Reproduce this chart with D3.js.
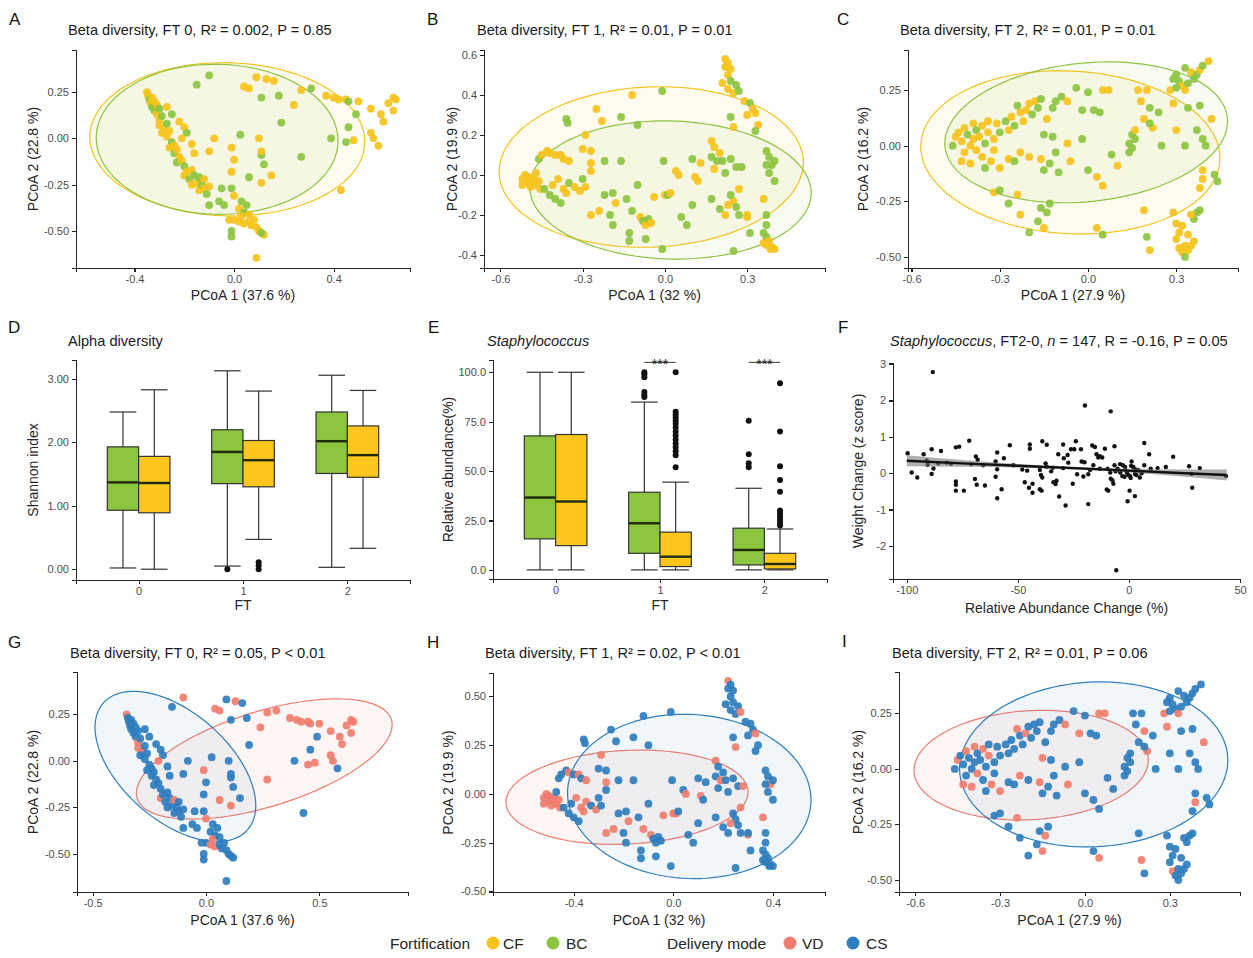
<!DOCTYPE html>
<html lang="en">
<head>
<meta charset="utf-8">
<title>Fortification and delivery mode panels</title>
<script src="https://d3js.org/d3.v7.min.js"></script>
<style>
  html, body { margin: 0; padding: 0; background: #fff; }
  text { font-family: "Liberation Sans", Arial, sans-serif; }
  .axis path, .axis line { stroke: #222; stroke-width: 1.1px; shape-rendering: crispEdges; }
  .axis text { fill: #4d4d4d; font-size: 11px; }
  .title { font-size: 14.6px; fill: #1a1a1a; }
  .atitle { font-size: 14px; fill: #262626; }
  .letter { font-size: 17px; fill: #111; }
  .legend text { font-size: 15.5px; fill: #262626; }
</style>
</head>
<body>
<script>
// groups and colours
var fortGroups = ["CF", "BC"];
var fortColors = ["#F6C21C", "#8CC440"];
var deliveryGroups = ["VD", "CS"];
var deliveryColors = ["#F07D6E", "#2E7DBE"];
var ftLevels = ["0", "1", "2"];

// PCoA samples: [PCoA1, PCoA2, fortification index, delivery index]
var ft0Points = [
  [-0.35,0.25,0,0],[-0.345,0.23,0,1],[-0.34,0.21,1,1],[-0.335,0.19,0,1],[-0.33,0.22,0,1],[-0.33,0.17,1,1],
  [-0.32,0.2,0,1],[-0.32,0.15,1,1],[-0.31,0.18,0,1],[-0.31,0.13,0,1],[-0.3,0.16,1,1],[-0.3,0.1,0,0],
  [-0.29,0.12,1,1],[-0.3,0.07,0,0],[-0.28,0.05,0,0],[-0.29,0.03,0,1],[-0.27,0.08,1,1],[-0.27,0.01,0,1],
  [-0.26,0.04,0,1],[-0.25,-0.02,1,1],[-0.26,-0.05,0,1],[-0.24,-0.04,0,1],[-0.24,-0.08,1,1],[-0.23,-0.06,0,1],
  [-0.22,-0.1,0,1],[-0.23,-0.13,1,1],[-0.21,-0.12,0,1],[-0.2,-0.15,1,1],[-0.2,-0.2,0,0],[-0.19,-0.18,0,1],
  [-0.18,-0.22,1,1],[-0.17,-0.17,0,1],[-0.17,-0.25,0,1],[-0.16,-0.2,1,1],[-0.15,-0.24,0,1],[-0.14,-0.21,1,0],
  [-0.14,-0.28,0,1],[-0.13,-0.25,1,1],[-0.12,-0.27,0,1],[-0.12,-0.22,0,1],[-0.11,-0.3,1,1],[-0.1,-0.26,0,1],
  [-0.27,0.17,0,1],[-0.25,0.13,1,1],[-0.22,0.09,0,1],[-0.2,0.06,0,1],[-0.19,0.03,1,1],[-0.21,0.0,0,0],
  [-0.17,-0.03,0,1],[-0.16,-0.08,0,1],
  [-0.15,0.29,1,1],[-0.1,0.34,1,0],[0.09,0.33,0,1],[0.13,0.32,0,0],[0.16,0.31,0,1],[0.04,0.28,0,0],
  [0.06,0.27,0,0],[0.11,0.22,1,1],[0.18,0.23,1,1],[0.24,0.18,0,0],[0.27,0.26,0,0],[0.31,0.27,1,0],
  [0.37,0.23,0,0],[0.4,0.22,0,0],[0.42,0.21,0,0],[0.45,0.21,0,0],[0.46,0.2,1,0],[0.5,0.2,0,0],
  [0.49,0.13,1,1],[0.55,0.16,0,0],[0.59,0.13,0,0],[0.62,0.19,0,0],[0.65,0.21,0,0],[0.64,0.22,0,0],
  [0.64,0.15,0,0],[0.6,0.09,0,0],[0.55,0.03,0,0],[0.56,0.0,0,0],[0.58,-0.04,0,1],[0.48,-0.01,0,0],
  [0.43,-0.28,0,1],[0.39,0.0,1,1],[0.45,-0.02,1,0],[0.46,0.06,1,1],[0.27,-0.1,1,0],[0.19,0.085,1,1],
  [0.025,0.02,1,1],[0.11,-0.09,1,1],[0.12,-0.14,1,1],[0.06,-0.21,1,0],[-0.01,-0.27,1,1],[-0.05,-0.27,1,1],
  [-0.1,-0.36,1,1],[-0.08,0.0,0,1],[-0.01,-0.05,0,0],[0.0,-0.115,0,1],[0.1,0.0,0,1],[0.11,-0.07,0,1],
  [0.15,-0.2,0,1],[-0.01,-0.18,0,1],[0.0,-0.31,0,0],[0.11,-0.24,0,0],[-0.1,-0.07,0,1],
  [0.02,-0.38,0,1],[0.04,-0.4,1,1],[0.03,-0.42,0,0],[0.05,-0.36,1,1],[0.06,-0.41,0,1],[0.0,-0.44,0,1],
  [0.02,-0.45,0,0],[0.04,-0.46,0,0],[0.06,-0.45,0,1],[0.08,-0.44,0,1],[0.07,-0.47,0,1],[0.09,-0.48,0,1],
  [0.1,-0.5,0,1],[0.12,-0.52,0,1],[0.11,-0.51,1,1],[-0.01,-0.53,1,1],[-0.01,-0.5,1,1],[0.09,-0.645,0,1],
  [0.03,-0.34,1,1],[-0.04,-0.36,1,1],[-0.06,-0.34,1,1],[-0.02,-0.44,0,1]
];

var ft1Points = [
  [-0.52,-0.02,0,0],[-0.51,0.0,0,0],[-0.5,-0.04,0,0],[-0.5,-0.01,0,0],[-0.49,-0.03,0,0],[-0.49,-0.06,0,0],
  [-0.48,-0.02,0,0],[-0.47,-0.05,0,0],[-0.47,0.01,0,1],[-0.46,-0.03,0,0],[-0.455,-0.07,0,0],[-0.52,-0.05,0,0],
  [-0.46,0.08,1,1],[-0.45,0.1,0,1],[-0.43,0.12,0,1],[-0.42,0.11,0,0],[-0.4,0.1,0,1],[-0.38,0.1,0,0],
  [-0.37,0.08,0,1],[-0.35,0.07,0,0],
  [-0.44,-0.07,1,1],[-0.42,-0.1,1,1],[-0.4,-0.12,1,1],[-0.38,-0.14,1,1],[-0.41,-0.05,0,1],[-0.39,-0.02,0,0],
  [-0.37,-0.07,0,0],[-0.36,-0.09,0,0],[-0.35,-0.04,1,0],[-0.33,-0.06,0,1],[-0.31,-0.08,0,0],[-0.29,-0.06,0,1],
  [-0.3,-0.02,1,1],
  [-0.36,0.28,1,1],[-0.355,0.26,1,1],[-0.29,0.2,0,0],[-0.3,0.13,0,1],[-0.27,0.12,0,1],[-0.27,0.06,0,0],
  [-0.25,0.33,0,1],[-0.23,0.27,0,1],[-0.27,0.02,0,1],[-0.22,0.07,1,1],[-0.22,-0.1,1,1],[-0.19,-0.09,1,1],
  [-0.2,-0.2,1,1],[-0.18,-0.14,0,0],[-0.16,0.29,1,1],[-0.16,0.07,1,1],[-0.24,-0.18,0,0],[-0.27,-0.2,0,0],
  [-0.19,-0.25,1,1],
  [-0.12,0.4,0,1],[-0.1,0.25,1,1],[-0.13,-0.29,1,1],[-0.13,-0.33,1,1],[-0.14,-0.12,1,1],[-0.1,-0.05,1,1],
  [-0.12,-0.18,1,0],[-0.09,-0.21,0,0],[-0.08,-0.23,1,1],[-0.07,-0.25,0,1],[-0.06,-0.22,1,1],[-0.05,-0.24,0,1],
  [-0.07,-0.32,1,1],[-0.04,-0.11,0,0],[-0.01,0.42,1,1],[-0.005,0.07,1,1],[0.0,-0.1,0,0],[0.01,-0.1,1,0],
  [0.02,-0.09,0,1],[-0.01,-0.37,1,1],[0.06,-0.21,1,1],[0.04,0.02,0,1],[0.08,-0.25,1,1],[0.1,-0.15,1,1],
  [0.1,0.08,1,1],[0.11,-0.01,0,0],[0.12,-0.03,0,1],[0.13,0.06,0,1],[0.05,0.0,0,0],
  [0.17,0.17,0,0],[0.18,0.14,0,1],[0.17,0.09,1,1],[0.2,0.11,0,1],[0.19,0.07,1,0],[0.21,0.07,1,1],
  [0.24,0.08,1,1],[0.22,0.01,1,1],[0.18,0.03,0,1],[0.26,0.04,1,1],[0.28,0.04,1,0],[0.27,-0.07,0,0],
  [0.25,-0.13,0,1],[0.24,-0.1,1,1],[0.23,-0.15,0,0],[0.26,-0.16,1,1],[0.27,-0.2,1,1],[0.2,-0.17,1,1],
  [0.17,-0.12,1,1],[0.22,-0.2,0,1],[0.25,-0.38,1,1],[0.3,-0.21,0,0],[0.31,-0.29,1,1],[0.3,-0.2,0,1],
  [0.22,0.58,0,0],[0.23,0.56,0,1],[0.22,0.54,0,1],[0.24,0.53,0,1],[0.23,0.5,0,1],[0.21,0.46,0,1],
  [0.24,0.47,1,1],[0.26,0.45,1,1],[0.23,0.43,0,1],[0.25,0.41,0,1],[0.27,0.42,1,0],[0.29,0.37,0,1],
  [0.31,0.36,1,1],[0.32,0.33,0,1],[0.33,0.31,0,0],[0.3,0.3,0,1],[0.34,0.25,0,1],[0.33,0.22,1,1],
  [0.24,0.29,1,1],[0.25,0.24,0,0],
  [0.37,0.12,1,1],[0.38,0.09,1,1],[0.39,0.05,1,0],[0.37,0.05,1,1],[0.4,0.07,1,1],[0.4,-0.03,1,1],
  [0.38,0.01,1,1],[0.36,-0.12,0,0],[0.37,-0.2,1,1],[0.37,-0.25,1,1],[0.36,-0.29,1,1],[0.37,-0.31,1,1],
  [0.38,-0.33,0,1],[0.37,-0.35,0,1],[0.39,-0.36,0,1],[0.4,-0.37,0,1],[0.385,-0.37,0,1],[0.36,-0.34,0,1]
];

var ft2Points = [
  [-0.46,0.0,1,1],[-0.45,0.04,0,0],[-0.44,0.06,0,1],[-0.43,0.02,0,1],[-0.42,0.08,0,0],[-0.42,-0.03,0,1],
  [-0.41,0.05,1,1],[-0.4,0.0,0,1],[-0.4,-0.08,0,0],[-0.39,0.1,0,0],[-0.39,0.03,0,1],[-0.38,0.07,1,1],
  [-0.38,-0.02,0,0],[-0.37,0.04,0,1],[-0.36,0.09,0,0],[-0.36,-0.05,0,1],[-0.35,0.01,1,1],[-0.34,0.11,0,1],
  [-0.34,0.06,0,0],[-0.33,-0.07,0,0],[-0.32,0.03,0,1],[-0.31,0.1,0,1],[-0.35,-0.1,1,1],[-0.43,-0.07,0,0],
  [-0.3,0.06,1,1],[-0.32,-0.02,0,1],
  [-0.28,0.11,1,1],[-0.27,0.07,0,1],[-0.26,0.13,0,1],[-0.25,0.09,1,1],[-0.24,0.18,1,0],[-0.23,0.15,0,1],
  [-0.22,0.11,0,1],[-0.21,0.16,0,0],[-0.2,0.19,0,1],[-0.19,0.14,1,1],[-0.18,0.2,0,1],[-0.17,0.17,1,1],
  [-0.16,0.21,1,1],[-0.15,0.05,1,0],[-0.14,0.12,0,1],[-0.12,0.17,1,1],[-0.11,0.2,1,1],[-0.09,0.22,1,1],
  [-0.07,0.2,0,0],[-0.04,0.26,1,1],[0.0,0.24,1,1],[0.05,0.25,0,0],[0.07,0.25,0,0],[0.02,0.16,1,1],
  [0.04,0.15,1,1],
  [-0.27,-0.06,0,1],[-0.25,-0.07,1,1],[-0.23,-0.03,0,0],[-0.3,-0.1,0,0],[-0.2,-0.05,0,1],[-0.16,-0.06,0,0],
  [-0.15,-0.11,1,1],[-0.13,-0.08,1,1],[-0.12,0.04,1,1],[-0.11,-0.03,1,1],[-0.1,-0.12,1,1],[-0.07,0.01,0,1],
  [-0.06,-0.07,0,0],[-0.02,0.03,1,1],[0.0,-0.11,1,1],[0.03,-0.14,0,1],[0.05,-0.18,0,1],[0.08,-0.04,1,1],
  [0.1,-0.09,0,1],[-0.02,0.16,1,0],
  [-0.32,-0.21,0,1],[-0.3,-0.2,1,1],[-0.27,-0.26,1,1],[-0.24,-0.22,0,0],[-0.23,-0.31,0,1],[-0.2,-0.39,1,1],
  [-0.17,-0.34,1,1],[-0.16,-0.28,1,1],[-0.14,-0.3,1,0],[-0.15,-0.37,0,0],[-0.13,-0.26,1,1],[0.03,-0.37,0,1],
  [0.05,-0.4,1,0],
  [0.14,0.01,1,1],[0.15,-0.01,1,1],[0.16,0.03,1,1],[0.15,0.05,1,1],[0.14,-0.03,1,1],[0.16,0.07,0,1],
  [0.17,0.25,0,1],[0.18,0.2,0,1],[0.2,0.25,0,1],[0.21,0.17,1,0],[0.19,0.12,0,1],[0.22,0.08,0,0],
  [0.24,0.15,1,1],[0.25,0.0,1,1],[0.21,0.1,1,1],[0.28,0.25,0,0],[0.29,0.19,0,0],[0.3,0.07,0,1],
  [0.33,0.0,1,1],[0.34,0.17,1,1],[0.37,0.07,1,1],[0.39,0.03,1,1],[0.4,0.0,1,1],[0.42,0.12,0,0],
  [0.38,0.18,1,1],
  [0.29,0.3,1,1],[0.3,0.32,1,1],[0.31,0.29,1,1],[0.32,0.27,0,1],[0.33,0.25,0,0],[0.3,0.26,1,1],
  [0.34,0.28,1,1],[0.35,0.33,0,1],[0.37,0.32,1,1],[0.38,0.34,0,1],[0.39,0.36,1,1],[0.41,0.38,0,1],
  [0.36,0.3,1,1],[0.33,0.35,1,1],
  [0.43,-0.13,1,1],[0.44,-0.16,1,1],[0.39,-0.15,0,0],[0.38,-0.19,0,1],[0.39,-0.11,0,1],
  [0.29,-0.3,0,1],[0.3,-0.35,0,1],[0.31,-0.39,0,1],[0.32,-0.36,0,1],[0.3,-0.42,0,1],[0.31,-0.46,0,0],
  [0.32,-0.48,0,1],[0.33,-0.5,1,1],[0.34,-0.47,0,1],[0.35,-0.45,0,1],[0.36,-0.43,0,1],[0.34,-0.4,0,1],
  [0.36,-0.33,1,1],[0.37,-0.3,1,1],[0.38,-0.29,1,1],[0.35,-0.31,0,1],[0.33,-0.45,0,1],[0.2,-0.41,1,0],
  [0.21,-0.47,0,1],[0.19,-0.29,0,1]
];

// 95% ellipses: [centre x, centre y, radius x, radius y, angle in degrees], group order as above
var ft0FortEllipses = [[-0.027,-0.005,0.553,0.413,-3],[-0.068,-0.005,0.486,0.405,-3]];
var ft1FortEllipses = [[-0.05,0.04,0.556,0.40,5],[0.02,-0.075,0.514,0.345,-3]];
var ft2FortEllipses = [[-0.06,-0.03,0.51,0.365,-6],[-0.006,0.06,0.485,0.31,10]];
var ft0DeliveryEllipses = [[0.257,0.01,0.6,0.25,22],[-0.135,-0.03,0.47,0.26,-52]];
var ft1DeliveryEllipses = [[-0.186,-0.017,0.487,0.24,4],[0.064,-0.013,0.49,0.42,-8]];
var ft2DeliveryEllipses = [[-0.19,0.017,0.415,0.245,5],[0.031,0.02,0.475,0.37,6]];

// box plots: [FT, group, lower whisker, Q1, median, Q3, upper whisker]
var alphaStats = [
  ["0","BC",0.02,0.93,1.37,1.93,2.48],
  ["0","CF",0.0,0.89,1.36,1.78,2.83],
  ["1","BC",0.05,1.35,1.85,2.2,3.13],
  ["1","CF",0.47,1.3,1.72,2.03,2.81],
  ["2","BC",0.03,1.51,2.02,2.48,3.06],
  ["2","CF",0.33,1.45,1.8,2.26,2.82]
];
var alphaOutliers = [["1","BC",0.0],["1","CF",0.0],["1","CF",0.06],["1","CF",0.11]];

var staphStats = [
  ["0","BC",0,15.7,36.6,67.8,100],
  ["0","CF",0,12.3,34.6,68.5,100],
  ["1","BC",0,8.4,23.6,39.3,84.9],
  ["1","CF",0,1.7,6.7,19.1,44.4],
  ["2","BC",0,2.5,10.1,21.1,41.3],
  ["2","CF",0,0.5,3,8.4,20.7]
];
var staphOutliers = [
  ["1","BC",100],["1","BC",99],["1","BC",97.5],["1","BC",90],["1","BC",88.5],["1","BC",87.5],
  ["1","CF",100],["1","CF",80],["1","CF",78.5],["1","CF",77],["1","CF",75.5],["1","CF",74],["1","CF",72],
  ["1","CF",70],["1","CF",68],["1","CF",66],["1","CF",64],["1","CF",62],["1","CF",60],["1","CF",58],["1","CF",52],
  ["2","BC",75.5],["2","BC",58.5],["2","BC",54],["2","BC",52],
  ["2","CF",94.5],["2","CF",70],["2","CF",52.5],["2","CF",45.5],["2","CF",39.5],["2","CF",30],["2","CF",28.5],
  ["2","CF",27],["2","CF",25.5],["2","CF",24],["2","CF",22.5]
];
var staphSignif = [["1","***",105],["2","***",105]];

// F: relative abundance change vs weight change z score
var fPoints = [
  [-99.6,0.55],[-97.8,0.02],[-95.3,-0.12],[-92.4,0.52],[-90.6,0.23],[-88.8,0.66],[-88.3,2.78],[-88.8,-0.02],
  [-88,0.13],[-84.6,0.61],[-85.8,0.27],[-80.1,0.26],[-77.9,0.71],[-76.4,0.73],[-77.9,-0.23],[-77.9,-0.32],
  [-77.9,-0.48],[-74.3,-0.48],[-71.9,0.89],[-68.9,0.46],[-68.1,0.37],[-69.3,-0.16],[-68.5,-0.32],[-64.8,-0.34],
  [-65.6,0.22],[-59.3,0.57],[-59.3,0.11],[-59.3,-0.69],[-57.3,-0.44],[-56.3,0.41],[-53.6,0.77],[-45.8,0.07],
  [-46.9,-0.25],[-44.6,0.79],[-44.6,0.67],[-43.4,-0.29],[-43.4,-0.54],[-39,0.88],[-40.1,0.09],[-39.6,-0.05],
  [-39,-0.12],[-40.1,-0.44],[-39.3,-0.48],[-37,0.78],[-37.5,0.27],[-37,0.18],[-34.3,0.15],[-34,-0.25],
  [-32.6,-0.21],[-31.8,0.52],[-31.4,-0.64],[-29.6,0.79],[-28.5,-0.89],[-29.6,0.14],[-29.3,0.41],[-27.6,0.5],
  [-27.3,0.29],[-26.1,0.66],[-25.3,-0.29],[-24.6,0.66],[-23.9,0.88],[-23.3,-0.03],[-21.6,0.66],[-21.3,0.32],
  [-20.5,-0.09],[-19.8,1.86],[-18.3,-0.85],[-18.3,-0.03],[-17.5,0.09],[-16.5,0.76],[-15.3,0.72],[-14.6,0.52],
  [-13.8,0.43],[-13.1,0.47],[-16,0.22],[-13.1,0.12],[-10.8,0.67],[-9.6,0.12],[-9.3,-0.48],[-8.2,1.7],
  [-8.4,0.02],[-8.2,-0.15],[-7.4,-0.2],[-7,-0.29],[-6.5,0.74],[-6.5,0.22],[-5.1,0.12],[-3.9,0.02],
  [-2.7,0.22],[-1.7,0.17],[-0.9,0.01],[-0.6,-0.77],[0.3,-0.48],[-0.3,-0.05],[0.8,-0.13],[1.2,0.32],
  [2,0.17],[2.7,-0.63],[2.7,-0.02],[3.4,-0.05],[4.2,0.08],[4.9,-0.12],[5.7,0.0],[6.9,0.83],
  [6.9,0.22],[9.1,0.52],[9.8,0.12],[12.9,0.14],[16.6,0.17],[19.9,0.45],[27.1,0.19],[28.2,-0.02],
  [28.5,-0.4],[31.9,0.14],[43.7,-0.08],[-91,0.35],[-82,0.29],[-60,0.32],[-52,0.22],[-48,0.1],
  [-35,0.05],[-12,0.43],[-4,0.25],[-2,-0.1],[1,0.2],[-10,-0.45],[-45,-0.4],[-33,-0.3],
  [-60,-0.1],[-71,0.25],[-5.7,-2.67],[-1,0.05],[0.5,-0.08],[3,0.1],[-6,0.05],[-3,-0.08],[-20,0.3]
];
var fitX = [-100, -75, -50, -25, 0, 25, 44];
var fitY = [0.34, 0.27, 0.205, 0.14, 0.07, 0.0, -0.05];
var fitLow = [0.19, 0.18, 0.155, 0.10, 0.02, -0.10, -0.20];
var fitHigh = [0.49, 0.36, 0.255, 0.18, 0.12, 0.10, 0.10];

var svg = d3.select("body").append("svg")
    .attr("width", 1253)
    .attr("height", 958);

var noMinus = function(f) { return function(d) { return d3.format(f)(d).replace("\u2212", "-"); }; };

function drawAxes(xs, ys, cfg) {
    svg.append("g")
        .attr("class", "axis")
        .attr("transform", "translate(0," + cfg.y1 + ")")
        .call(d3.axisBottom(xs).tickValues(cfg.xTicks).tickFormat(cfg.xFmt)
            .tickSizeOuter(0).tickSize(4).tickPadding(3));
    svg.append("g")
        .attr("class", "axis")
        .attr("transform", "translate(" + cfg.x0 + ",0)")
        .call(d3.axisLeft(ys).tickValues(cfg.yTicks).tickFormat(cfg.yFmt)
            .tickSizeOuter(0).tickSize(4).tickPadding(3));

    svg.append("text").attr("class", "atitle")
        .attr("x", (cfg.x0 + cfg.x1) / 2).attr("y", cfg.xtY)
        .attr("text-anchor", "middle").text(cfg.xLabel);
    svg.append("text").attr("class", "atitle")
        .attr("transform", "translate(" + cfg.ytX + "," + (cfg.y0 + cfg.y1) / 2 + ") rotate(-90)")
        .attr("text-anchor", "middle").attr("dominant-baseline", "central")
        .text(cfg.yLabel);
}

function drawHeader(cfg) {
    svg.append("text").attr("class", "letter")
        .attr("x", cfg.letterX).attr("y", cfg.letterY).text(cfg.letter);
    var t = svg.append("text").attr("class", "title")
        .attr("x", cfg.titleX).attr("y", cfg.titleY);
    cfg.title.forEach(function(part) {
        t.append("tspan").attr("font-style", part[1] ? "italic" : "normal").text(part[0]);
    });
}

function ellipsePath(e, xs, ys) {
    var th = e[4] * Math.PI / 180, pts = [];
    for (var i = 0; i <= 120; i++) {
        var t = 2 * Math.PI * i / 120;
        var dx = e[2] * Math.cos(t), dy = e[3] * Math.sin(t);
        pts.push([e[0] + dx * Math.cos(th) - dy * Math.sin(th),
                  e[1] + dx * Math.sin(th) + dy * Math.cos(th)]);
    }
    return d3.line().x(function(d) { return xs(d[0]); }).y(function(d) { return ys(d[1]); })(pts) + "Z";
}

function drawPcoa(cfg, points, ellipses, colorIdx, colors) {
    var xs = d3.scaleLinear().domain(cfg.xDomain).range([cfg.x0, cfg.x1]);
    var ys = d3.scaleLinear().domain(cfg.yDomain).range([cfg.y1, cfg.y0]);

    ellipses.forEach(function(e, i) {
        svg.append("path")
            .attr("d", ellipsePath(e, xs, ys))
            .attr("fill", colors[i]).attr("fill-opacity", 0.07)
            .attr("stroke", colors[i]).attr("stroke-width", 1.2);
    });

    svg.append("g").selectAll("circle")
        .data(points)
        .enter().append("circle")
        .attr("cx", function(d) { return xs(d[0]); })
        .attr("cy", function(d) { return ys(d[1]); })
        .attr("r", 3.9)
        .attr("fill", function(d) { return colors[d[colorIdx]]; })
        .attr("fill-opacity", 0.92);

    drawAxes(xs, ys, cfg);
    drawHeader(cfg);
}

function drawBoxes(cfg, stats, outliers) {
    var xs = d3.scalePoint().domain(ftLevels).range([cfg.x0, cfg.x1]).padding(0.6);
    var ys = d3.scaleLinear().domain(cfg.yDomain).range([cfg.y1, cfg.y0]);
    var step = xs.step();
    var bw = step * 0.3;
    var off = { "BC": -0.15 * step, "CF": 0.15 * step };
    var fill = { "BC": "#8CC63E", "CF": "#FFC61E" };

    var g = svg.append("g");
    stats.forEach(function(s) {
        var cx = xs(s[0]) + off[s[1]];
        var cap = bw * 0.85;
        g.append("line").attr("x1", cx).attr("x2", cx).attr("y1", ys(s[6])).attr("y2", ys(s[5]))
            .attr("stroke", "#333").attr("stroke-width", 1.2);
        g.append("line").attr("x1", cx).attr("x2", cx).attr("y1", ys(s[3])).attr("y2", ys(s[2]))
            .attr("stroke", "#333").attr("stroke-width", 1.2);
        [s[2], s[6]].forEach(function(v) {
            g.append("line").attr("x1", cx - cap / 2).attr("x2", cx + cap / 2)
                .attr("y1", ys(v)).attr("y2", ys(v))
                .attr("stroke", "#333").attr("stroke-width", 1.2);
        });
        g.append("rect").attr("x", cx - bw / 2).attr("width", bw)
            .attr("y", ys(s[5])).attr("height", ys(s[3]) - ys(s[5]))
            .attr("fill", fill[s[1]]).attr("stroke", "#333").attr("stroke-width", 1.2);
        g.append("line").attr("x1", cx - bw / 2).attr("x2", cx + bw / 2)
            .attr("y1", ys(s[4])).attr("y2", ys(s[4]))
            .attr("stroke", "#1f2a10").attr("stroke-width", 2.4);
    });
    g.selectAll("circle.out").data(outliers).enter().append("circle")
        .attr("cx", function(d) { return xs(d[0]) + off[d[1]]; })
        .attr("cy", function(d) { return ys(d[2]); })
        .attr("r", 3)
        .attr("fill", "#111");

    if (cfg.signif) {
        cfg.signif.forEach(function(s) {
            var a = xs(s[0]) + off["BC"], b = xs(s[0]) + off["CF"];
            g.append("line").attr("x1", a).attr("x2", b).attr("y1", ys(s[2])).attr("y2", ys(s[2]))
                .attr("stroke", "#333").attr("stroke-width", 1);
            g.append("text").attr("x", (a + b) / 2).attr("y", ys(s[2]) + 7)
                .attr("text-anchor", "middle").attr("font-size", "14px").attr("fill", "#222")
                .text(s[1]);
        });
    }

    drawAxes(xs, ys, cfg);
    drawHeader(cfg);
}

function drawF(cfg) {
    var xs = d3.scaleLinear().domain(cfg.xDomain).range([cfg.x0, cfg.x1]);
    var ys = d3.scaleLinear().domain(cfg.yDomain).range([cfg.y1, cfg.y0]);

    svg.append("g").selectAll("circle")
        .data(fPoints)
        .enter().append("circle")
        .attr("cx", function(d) { return xs(d[0]); })
        .attr("cy", function(d) { return ys(d[1]); })
        .attr("r", 2.2)
        .attr("fill", "#111");

    var band = d3.area()
        .x(function(d, i) { return xs(fitX[i]); })
        .y0(function(d, i) { return ys(fitLow[i]); })
        .y1(function(d, i) { return ys(fitHigh[i]); })
        .curve(d3.curveMonotoneX);
    svg.append("path").attr("d", band(fitX))
        .attr("fill", "#7a7a7a").attr("fill-opacity", 0.6);
    var line = d3.line()
        .x(function(d, i) { return xs(fitX[i]); })
        .y(function(d, i) { return ys(fitY[i]); });
    svg.append("path").attr("d", line(fitX))
        .attr("fill", "none").attr("stroke", "#111").attr("stroke-width", 2.4);

    drawAxes(xs, ys, cfg);
    drawHeader(cfg);
}

var f2 = noMinus(".2f"), f1 = noMinus(".1f"), f0 = noMinus("d");

drawPcoa({x0: 76, x1: 410, y0: 50, y1: 268, xDomain: [-0.635, 0.707], yDomain: [-0.70, 0.477],
    xTicks: [-0.4, 0, 0.4], yTicks: [-0.5, -0.25, 0, 0.25], xFmt: f1, yFmt: f2,
    xLabel: "PCoA 1 (37.6 %)", yLabel: "PCoA 2 (22.8 %)", xtY: 300, ytX: 33,
    letter: "A", letterX: 9, letterY: 25, titleX: 68, titleY: 35,
    title: [["Beta diversity, FT 0, R\u00b2 = 0.002, P = 0.85", false]]},
    ft0Points, ft0FortEllipses, 2, fortColors);

drawPcoa({x0: 484, x1: 825, y0: 50, y1: 268, xDomain: [-0.66, 0.584], yDomain: [-0.465, 0.625],
    xTicks: [-0.6, -0.3, 0, 0.3], yTicks: [-0.4, -0.2, 0, 0.2, 0.4, 0.6], xFmt: f1, yFmt: f1,
    xLabel: "PCoA 1 (32 %)", yLabel: "PCoA 2 (19.9 %)", xtY: 300, ytX: 452,
    letter: "B", letterX: 427, letterY: 25, titleX: 477, titleY: 35,
    title: [["Beta diversity, FT 1, R\u00b2 = 0.01, P = 0.01", false]]},
    ft1Points, ft1FortEllipses, 2, fortColors);

drawPcoa({x0: 908, x1: 1238, y0: 50, y1: 268, xDomain: [-0.612, 0.51], yDomain: [-0.55, 0.43],
    xTicks: [-0.6, -0.3, 0, 0.3], yTicks: [-0.5, -0.25, 0, 0.25], xFmt: f1, yFmt: f2,
    xLabel: "PCoA 1 (27.9 %)", yLabel: "PCoA 2 (16.2 %)", xtY: 300, ytX: 863,
    letter: "C", letterX: 837, letterY: 25, titleX: 900, titleY: 35,
    title: [["Beta diversity, FT 2, R\u00b2 = 0.01, P = 0.01", false]]},
    ft2Points, ft2FortEllipses, 2, fortColors);

drawBoxes({x0: 76, x1: 410, y0: 360, y1: 580, yDomain: [-0.17, 3.30],
    xTicks: ftLevels, yTicks: [0, 1, 2, 3], xFmt: null, yFmt: f2,
    xLabel: "FT", yLabel: "Shannon index", xtY: 610, ytX: 33,
    letter: "D", letterX: 8, letterY: 333, titleX: 68, titleY: 346,
    title: [["Alpha diversity", false]]},
    alphaStats, alphaOutliers);

drawBoxes({x0: 493, x1: 827, y0: 360, y1: 579, yDomain: [-4.6, 106.2],
    xTicks: ftLevels, yTicks: [0, 25, 50, 75, 100], xFmt: null, yFmt: f1,
    xLabel: "FT", yLabel: "Relative abundance(%)", xtY: 610, ytX: 448,
    letter: "E", letterX: 428, letterY: 333, titleX: 487, titleY: 346,
    title: [["Staphylococcus", true]], signif: staphSignif},
    staphStats, staphOutliers);

drawF({x0: 893, x1: 1240, y0: 363, y1: 579, xDomain: [-106.2, 50], yDomain: [-2.91, 3.03],
    xTicks: [-100, -50, 0, 50], yTicks: [-2, -1, 0, 1, 2, 3], xFmt: f0, yFmt: f0,
    xLabel: "Relative Abundance Change (%)", yLabel: "Weight Change (z score)", xtY: 613, ytX: 858,
    letter: "F", letterX: 838, letterY: 333, titleX: 890, titleY: 346,
    title: [["Staphylococcus", true], [", FT2-0, ", false], ["n", true], [" = 147, R = -0.16, P = 0.05", false]]});

drawPcoa({x0: 77, x1: 408, y0: 672, y1: 892, xDomain: [-0.569, 0.891], yDomain: [-0.704, 0.477],
    xTicks: [-0.5, 0, 0.5], yTicks: [-0.5, -0.25, 0, 0.25], xFmt: f1, yFmt: f2,
    xLabel: "PCoA 1 (37.6 %)", yLabel: "PCoA 2 (22.8 %)", xtY: 925, ytX: 33,
    letter: "G", letterX: 8, letterY: 648, titleX: 70, titleY: 658,
    title: [["Beta diversity, FT 0, R\u00b2 = 0.05, P < 0.01", false]]},
    ft0Points, ft0DeliveryEllipses, 3, deliveryColors);

drawPcoa({x0: 493, x1: 825, y0: 673, y1: 892, xDomain: [-0.724, 0.609], yDomain: [-0.503, 0.62],
    xTicks: [-0.4, 0, 0.4], yTicks: [-0.5, -0.25, 0, 0.25, 0.5], xFmt: f1, yFmt: f2,
    xLabel: "PCoA 1 (32 %)", yLabel: "PCoA 2 (19.9 %)", xtY: 925, ytX: 448,
    letter: "H", letterX: 427, letterY: 648, titleX: 485, titleY: 658,
    title: [["Beta diversity, FT 1, R\u00b2 = 0.02, P < 0.01", false]]},
    ft1Points, ft1DeliveryEllipses, 3, deliveryColors);

drawPcoa({x0: 899, x1: 1240, y0: 672, y1: 892, xDomain: [-0.657, 0.548], yDomain: [-0.554, 0.436],
    xTicks: [-0.6, -0.3, 0, 0.3], yTicks: [-0.5, -0.25, 0, 0.25], xFmt: f1, yFmt: f2,
    xLabel: "PCoA 1 (27.9 %)", yLabel: "PCoA 2 (16.2 %)", xtY: 925, ytX: 858,
    letter: "I", letterX: 842, letterY: 647, titleX: 892, titleY: 658,
    title: [["Beta diversity, FT 2, R\u00b2 = 0.01, P = 0.06", false]]},
    ft2Points, ft2DeliveryEllipses, 3, deliveryColors);

// legend
var legend = svg.append("g").attr("class", "legend");
var legendY = 943;
legend.append("text").attr("x", 390).attr("y", legendY).attr("dominant-baseline", "central").text("Fortification");
legend.append("text").attr("x", 667).attr("y", legendY).attr("dominant-baseline", "central").text("Delivery mode");
var legendItems = [
    [493, 503, fortGroups[0], fortColors[0]],
    [553, 566, fortGroups[1], fortColors[1]],
    [790, 802, deliveryGroups[0], deliveryColors[0]],
    [853, 866, deliveryGroups[1], deliveryColors[1]]
];
legendItems.forEach(function(d) {
    legend.append("circle").attr("cx", d[0]).attr("cy", legendY).attr("r", 6.5).attr("fill", d[3]);
    legend.append("text").attr("x", d[1]).attr("y", legendY).attr("dominant-baseline", "central").text(d[2]);
});
</script>
</body>
</html>
